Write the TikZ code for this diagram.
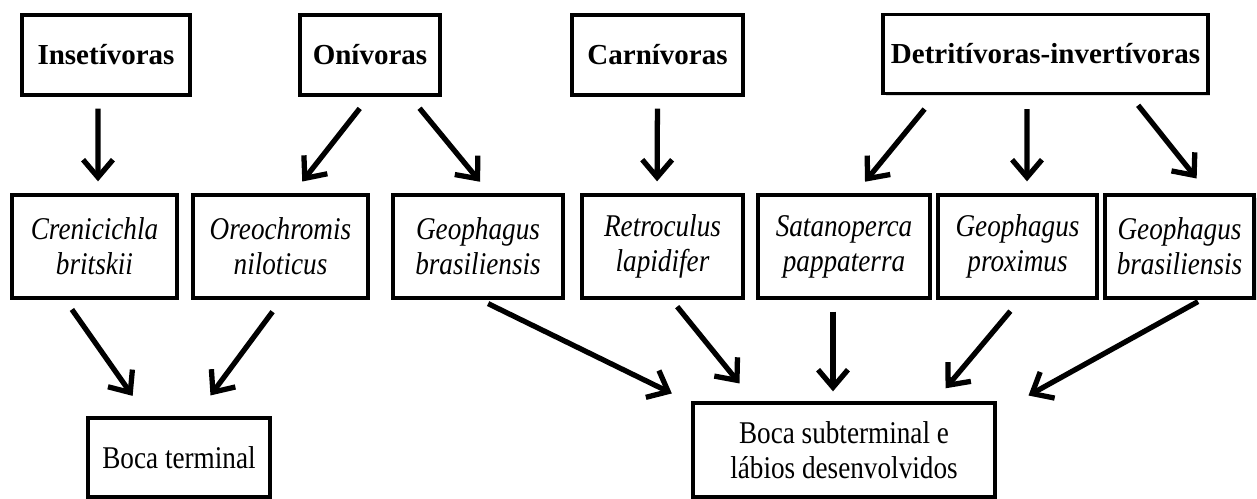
\documentclass[tikz,border=0pt]{standalone}
\usepackage{fontspec}
\setmainfont{Liberation Serif}
\newfontfamily\narrowserif{Liberation Serif}[FakeStretch=0.86]
\usetikzlibrary{arrows.meta,calc,shadows}

\tikzset{
    box/.style = {draw, line width=1.9pt, fill=white, align=center,
        drop shadow={opacity=0.25, shadow xshift=0.05cm, shadow yshift=-0.05cm}},
    guild/.style = {box, font=\bfseries\fontsize{16.5}{18}\selectfont, minimum height=1.6cm},
    species/.style = {box, font=\narrowserif\itshape\fontsize{18}{20}\selectfont, minimum height=2.06cm},
    mouth/.style = {box, font=\narrowserif\fontsize{18}{20}\selectfont},
    arr/.style = {line width=3pt, -{Straight Barb[length=10pt,width=17pt]}}
}

\begin{document}
\begin{tikzpicture}[x=0.02cm, y=-0.02cm]
    \useasboundingbox (0,0) rectangle (1257,499);

    % feeding guilds
    \node[guild, minimum width=3.36cm] (ins) at (106,55) {Insetívoras};
    \node[guild, minimum width=2.8cm] (oni) at (370,55) {Onívoras};
    \node[guild, minimum width=3.42cm] (car) at (657.5,55) {Carnívoras};
    \node[guild, minimum width=6.5cm, minimum height=1.58cm] (det) at (1045.5,54) {Detritívoras-invertívoras};

    % species
    \node[species, minimum width=3.3cm] (cre) at (94.5,246.5) {Crenicichla\\britskii};
    \node[species, minimum width=3.5cm] (ore) at (280.5,246.5) {Oreochromis\\niloticus};
    \node[species, minimum width=3.4cm] (geo) at (478,246.5) {Geophagus\\brasiliensis};
    \node[species, minimum width=3.22cm] (ret) at (662.5,246.5) {Retroculus\\lapidifer};
    \node[species, minimum width=3.44cm] (sat) at (844,246.5) {Satanoperca\\pappaterra};
    \node[species, minimum width=3.18cm] (prx) at (1017.5,246.5) {Geophagus\\proximus};
    \node[species, minimum width=2.98cm] (geb) at (1179.5,246.5) {Geophagus\\brasiliensis};

    % mouth types
    \node[mouth, minimum width=3.64cm, minimum height=1.58cm] (bt) at (179,457.5) {Boca terminal};
    \node[mouth, minimum width=6.04cm, minimum height=1.88cm] (bs) at (844,450) {Boca subterminal e\\lábios desenvolvidos};

    % guilds to species
    \draw[arr, shorten <=0.24cm, shorten >=0.24cm] ($(ins.south)+(-8,0)$) -- ($(cre.north)+(3.5,0)$);
    \draw[arr, shorten <=0.3cm, shorten >=0.3cm] ($(oni.south)+(-1,0)$) -- ($(ore.north)+(12.5,0)$);
    \draw[arr, shorten <=0.3cm, shorten >=0.3cm] ($(oni.south)+(40,0)$) -- ($(geo.north)+(11.6,0)$);
    \draw[arr, shorten <=0.24cm, shorten >=0.24cm] (car.south) -- ($(ret.north)+(-5.5,0)$);
    \draw[arr, shorten <=0.36cm, shorten >=0.3cm] ($(det.south)+(-109.5,0)$) -- ($(sat.north)+(11.5,0)$);
    \draw[arr, shorten <=0.28cm, shorten >=0.24cm] ($(det.south)+(-18.5,0)$) -- ($(prx.north)+(9.5,0)$);
    \draw[arr, shorten <=0.26cm, shorten >=0.38cm] ($(det.south)+(84.5,0)$) -- ($(geb.north)+(29,0)$);

    % species to mouth types
    \draw[arr, shorten <=0.24cm, shorten >=0.5cm] ($(cre.south)+(-29.5,0)$) -- ($(bt.north)+(-32,0)$);
    \draw[arr, shorten <=0.3cm, shorten >=0.52cm] ($(ore.south)+(1,0)$) -- ($(bt.north)+(16,0)$);
    \draw[arr, shorten <=0.18cm, shorten >=0.36cm] ($(geo.south)+(2,0)$) -- ($(bs.north)+(-156,0)$);
    \draw[arr, shorten <=0.18cm, shorten >=0.46cm] ($(ret.south)+(9,0)$) -- ($(bs.north)+(-90,0)$);
    \draw[arr, shorten <=0.24cm, shorten >=0.2cm] ($(sat.south)+(-11,0)$) -- ($(bs.north)+(-11,0)$);
    \draw[arr, shorten <=0.3cm, shorten >=0.34cm] ($(prx.south)+(2.5,0)$) -- ($(bs.north)+(90.6,0)$);
    \draw[arr, shorten <=0.08cm, shorten >=0.24cm] ($(geb.south)+(22,0)$) -- ($(bs.north)+(174,0)$);
\end{tikzpicture}
\end{document}
